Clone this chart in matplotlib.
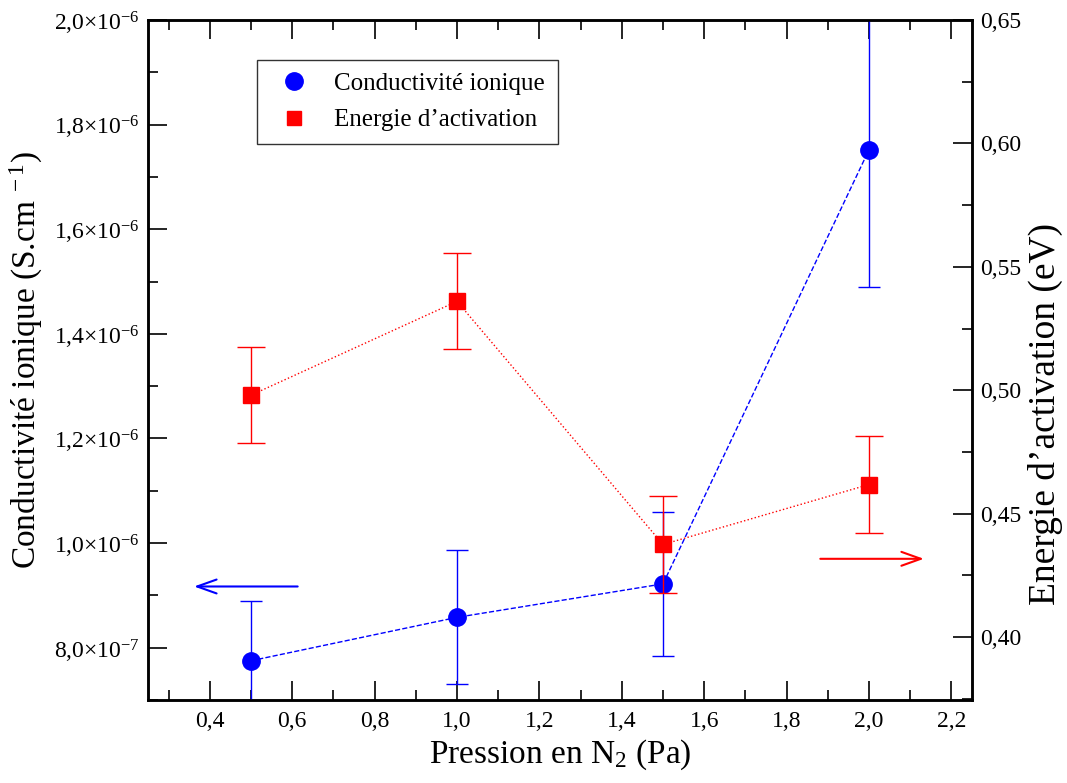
import matplotlib
matplotlib.use('Agg')
import matplotlib.pyplot as plt
from matplotlib.ticker import FixedLocator, FixedFormatter, MultipleLocator
from matplotlib.lines import Line2D

plt.rcParams['font.family'] = 'Liberation Serif'
plt.rcParams['mathtext.fontset'] = 'custom'
plt.rcParams['mathtext.rm'] = 'Liberation Serif'
plt.rcParams['mathtext.it'] = 'Liberation Serif:italic'

# data
pression = [0.5, 1.0, 1.5, 2.0]
conductivite = [7.75e-7, 8.58e-7, 9.22e-7, 1.752e-6]
cond_err = [1.15e-7, 1.28e-7, 1.38e-7, 2.62e-7]
energie = [0.498, 0.536, 0.4375, 0.4618]
energie_err = [0.0195, 0.0195, 0.0198, 0.0198]

left_ticks = [8.0e-7, 1.0e-6, 1.2e-6, 1.4e-6, 1.6e-6, 1.8e-6, 2.0e-6]
left_labels = [r'8,0$\times$10$^{-7}$', r'1,0$\times$10$^{-6}$', r'1,2$\times$10$^{-6}$',
               r'1,4$\times$10$^{-6}$', r'1,6$\times$10$^{-6}$', r'1,8$\times$10$^{-6}$',
               r'2,0$\times$10$^{-6}$']
right_ticks = [0.40, 0.45, 0.50, 0.55, 0.60, 0.65]
right_labels = ['0,40', '0,45', '0,50', '0,55', '0,60', '0,65']
x_ticks = [0.4, 0.6, 0.8, 1.0, 1.2, 1.4, 1.6, 1.8, 2.0, 2.2]
x_labels = ['0,4', '0,6', '0,8', '1,0', '1,2', '1,4', '1,6', '1,8', '2,0', '2,2']

fig = plt.figure(figsize=(10.67, 7.83), dpi=100)
ax = fig.add_axes([0.1387, 0.106, 0.7723, 0.8685])
ax2 = ax.twinx()

ax.errorbar(pression, conductivite, yerr=cond_err, color='blue', ls='--', lw=1.0,
            marker='o', ms=12.5, elinewidth=1.0, capsize=8, capthick=1.0, zorder=3,
            label='Conductivité ionique')
ax2.errorbar(pression, energie, yerr=energie_err, color='red', ls=':', lw=1.0,
             marker='s', ms=11, elinewidth=1.0, capsize=10, capthick=1.0, zorder=3,
             label='Energie d\u2019activation')

ax.set_xlim(0.25, 2.25)
ax.set_ylim(7.0e-7, 2.0e-6)
ax2.set_ylim(0.3745, 0.65)

ax.xaxis.set_major_locator(FixedLocator(x_ticks))
ax.xaxis.set_major_formatter(FixedFormatter(x_labels))
ax.xaxis.set_minor_locator(MultipleLocator(0.1))
ax.yaxis.set_major_locator(FixedLocator(left_ticks))
ax.yaxis.set_major_formatter(FixedFormatter(left_labels))
ax.yaxis.set_minor_locator(MultipleLocator(1e-7))
ax2.yaxis.set_major_locator(FixedLocator(right_ticks))
ax2.yaxis.set_major_formatter(FixedFormatter(right_labels))
ax2.yaxis.set_minor_locator(MultipleLocator(0.025))

ax.tick_params(axis='x', which='both', direction='in', top=True, labelsize=17, pad=8)
ax.tick_params(axis='y', which='both', direction='in', labelsize=17, pad=6)
ax2.tick_params(axis='y', which='both', direction='in', labelsize=17, pad=6)
for a in (ax, ax2):
    a.tick_params(which='major', length=14, width=1.2)
    a.tick_params(which='minor', length=7, width=1.2)
    for s in a.spines.values():
        s.set_linewidth(1.8)

ax.set_xlabel('Pression en N$_2$ (Pa)', fontsize=24, labelpad=4)
ax.set_ylabel('Conductivité ionique (S.cm$^{\\,\\,-1}$)', fontsize=24, labelpad=6)
ax2.set_ylabel('Energie d\u2019activation (eV)', fontsize=27, rotation=90, va='center')
ax2.yaxis.set_label_coords(1.089, 0.42)

# arrows pointing to the axes
ax.annotate('', xy=(0.355, 9.17e-7), xytext=(0.62, 9.17e-7),
            arrowprops=dict(arrowstyle='->,head_length=1.4,head_width=0.5', color='blue', lw=1.5))
ax2.annotate('', xy=(2.14, 0.4317), xytext=(1.875, 0.4317),
             arrowprops=dict(arrowstyle='->,head_length=1.4,head_width=0.5', color='red', lw=1.5))

labels = ['Conductivité ionique', 'Energie d\u2019activation']
hs = [Line2D([], [], color='blue', marker='o', ls='none', ms=12.5),
      Line2D([], [], color='red', marker='s', ls='none', ms=10.5)]
leg = ax2.legend(hs, labels, loc='upper left', bbox_to_anchor=(0.132, 0.941),
                 borderaxespad=0, fontsize=18, frameon=True, fancybox=False,
                 edgecolor='black', handletextpad=0.6, borderpad=0.5, labelspacing=0.55)
leg.get_frame().set_linewidth(1.0)

fig.savefig('out.png', dpi=100)
